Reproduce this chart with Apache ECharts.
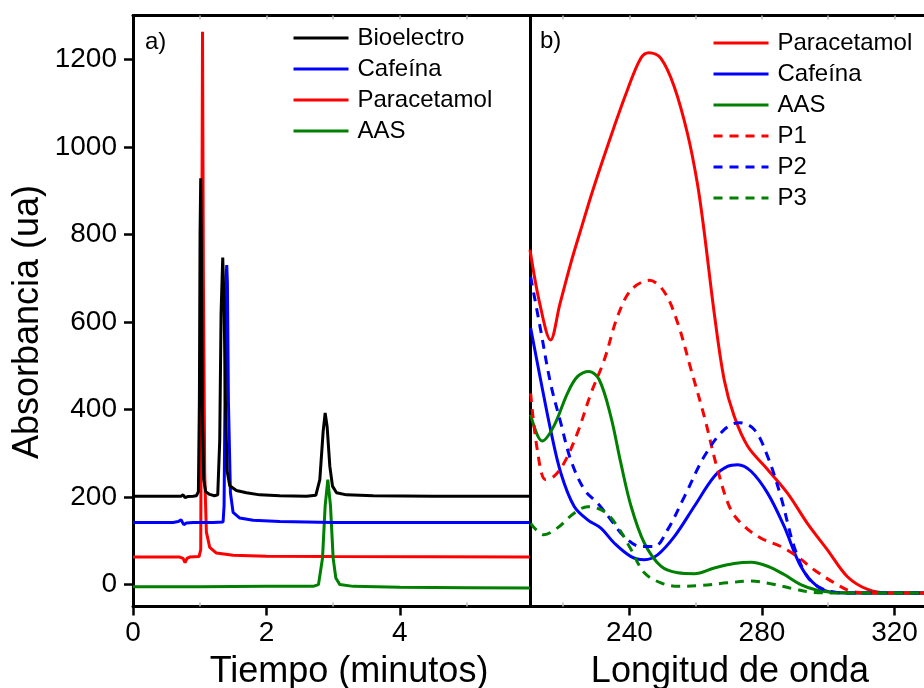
<!DOCTYPE html>
<html>
<head>
<meta charset="utf-8">
<script src="https://cdn.jsdelivr.net/npm/echarts@6/dist/echarts.min.js"></script>
<style>html,body{margin:0;padding:0;background:#fff;}#c{width:924px;height:688px;}</style>
</head>
<body>
<div id="c"></div>
<script>
// ---- Panel a) chromatograms: time (min) / absorbance ----
const bioT = [0,0.3,0.6,0.72,0.75,0.78,0.82,0.9,0.95,0.98,0.995,1.005,1.015,1.025,1.04,1.06,1.09,1.15,1.22,1.27,1.3,1.32,1.345,1.365,1.385,1.41,1.45,1.55,1.7,1.9,2.2,2.6,2.74,2.8,2.85,2.88,2.91,2.95,2.99,3.05,3.2,3.6,4.5,5.95];
const bioV = [202,202,202,202,205,199,201,202,203,212,420,800,928,780,400,240,212,206,203,205,330,620,747,640,420,260,226,215,210,205,203,202,204,240,350,392,360,270,225,210,205,203,202,202];
const cafT = [0,0.6,0.68,0.72,0.76,0.8,0.9,1.2,1.35,1.365,1.38,1.395,1.405,1.415,1.43,1.46,1.5,1.6,1.8,2.2,3,5.95];
const cafV = [142,142,144,148,137,141,142,142,143,180,450,700,730,690,420,210,165,152,147,144,142,142];
const parT = [0,0.7,0.75,0.78,0.81,0.85,0.99,1.015,1.03,1.042,1.055,1.075,1.1,1.15,1.25,1.5,2,3,5.95];
const parV = [63,63,60,50,60,63,64,80,700,1263,700,250,120,85,72,67,65,64,63];
const aasT = [0,1,2,2.7,2.78,2.84,2.88,2.92,2.96,3.0,3.04,3.1,3.3,4,5,5.95];
const aasV = [-5,-5,-4,-4,0,60,180,240,180,60,15,0,-4,-6,-7,-8];

// ---- Panel b) UV spectra: wavelength / absorbance ----
const parW = [210,213,216.2,219,222.3,225.3,229.3,235.4,239.4,243.4,245.9,249.5,253.5,257.5,260.5,262.5,265.6,268.6,271.6,275.7,281.7,287.7,293.7,299.8,305.8,311.9,318,340];
const parS = [765,640,559,640,734,810,909,1046,1130,1202,1215,1202,1138,1031,917,810,620,468,385,316,263,209,140,79,18,-11,-19,-19];
const cafW = [210.2,213.2,216.2,219.3,223.3,227.4,231.4,235.4,240.5,244.5,248.5,253.6,259.6,265.6,269.6,272.7,276.7,281.7,286.7,291.7,296.7,301.8,308,340];
const cafS = [586,468,354,255,179,148,129,95,64,57,68,110,179,247,270,274,259,209,133,42,-4,-18,-19,-19];
const aasW = [210.2,213.7,217.2,221.3,224.3,227.8,230.9,234.4,237.4,240.5,244.5,249.5,254.6,259.6,265.6,271.6,276.7,281.7,286.7,291.7,296.7,301.8,308,340];
const aasS = [388,328,362,437,475,487,468,384,278,179,95,42,27,25,38,48,51,42,23,0,-13,-18,-19,-19];
const p1W = [210.2,212.2,214.7,217.2,220.3,224.3,228.4,232.4,236.4,240.5,246,250.5,254.6,258.6,262.6,266.6,270.6,274.7,279.7,285.7,290.7,295.7,301.8,306.8,312,340];
const p1S = [437,308,240,247,278,346,437,513,612,673,695,669,597,491,384,263,171,133,106,87,64,34,4,-15,-19,-19];
const p2W = [210.2,213.2,216.2,219.3,222.3,226.4,230.4,234.4,238.4,243.5,247.5,251.5,256.6,262.6,268.6,273.2,277.7,281.7,285.7,289.7,293.7,297.8,302.8,308,340];
const p2S = [703,582,460,369,285,217,186,148,110,87,87,125,201,293,354,370,354,293,201,87,18,-8,-18,-19,-19];
const p3W = [210.2,214.2,218.2,223.3,227.4,232.4,236.4,240.5,244.5,249.5,254.6,261.6,269.6,276.7,282.7,289.7,295.7,302,340];
const p3S = [140,114,129,163,178,167,133,80,27,4,-4,-2,4,8,2,-10,-18,-19,-19];

// ---- axis ticks / labels ----
const yTicks = [0,200,400,600,800,1000,1200];
const timeTicks = [0,2,4];
const timeMinor = [1,3,5];
const timeTop = [1,2,3,4,5];
const waveTicks = [240,280,320];
const waveMinor = [220,260,300];
const waveTop = [220,240,260,280,300,320];

const FONT = 'Liberation Sans, Arial, sans-serif';
const pairs = (xs, ys) => xs.map((x, i) => [x, ys[i]]);

const chart = echarts.init(document.getElementById('c'), null, {renderer: 'canvas'});

function mkLine(name, xi, yi, xs, ys, color, dashed, smooth, z) {
  return {
    name: name, type: 'line', xAxisIndex: xi, yAxisIndex: yi, z: z || 2,
    data: pairs(xs, ys), showSymbol: false, symbol: 'none',
    smooth: smooth,
    lineStyle: {color: color, width: 3, type: dashed ? [9, 7] : 'solid'},
    itemStyle: {color: color}, animation: false, silent: true
  };
}

const bottomMain = (gi, min, max, ticks) => ({
  gridIndex: gi, type: 'value', min: min, max: max, position: 'bottom',
  axisLine: {show: true, onZero: false, lineStyle: {color: '#000', width: 3}},
  axisTick: {show: true, inside: false, length: 9, lineStyle: {color: '#000', width: 2.5}, customValues: ticks},
  axisLabel: {show: true, customValues: ticks, color: '#000', fontSize: 28, fontFamily: FONT, margin: 13, formatter: v => String(v)},
  splitLine: {show: false}
});
const topAxis = (gi, min, max, ticks) => ({
  gridIndex: gi, type: 'value', min: min, max: max, position: 'top',
  axisLine: {show: true, onZero: false, lineStyle: {color: '#000', width: 3}},
  axisTick: {show: true, inside: true, length: 4, lineStyle: {color: '#bbb', width: 1.5}, customValues: ticks},
  axisLabel: {show: false}, splitLine: {show: false}
});
const bottomMinor = (gi, min, max, ticks) => ({
  gridIndex: gi, type: 'value', min: min, max: max, position: 'bottom', offset: 0,
  axisLine: {show: false, onZero: false},
  axisTick: {show: true, inside: true, length: 4, lineStyle: {color: '#bbb', width: 1.5}, customValues: ticks},
  axisLabel: {show: false}, splitLine: {show: false}
});

const legendCommon = {
  orient: 'vertical', itemWidth: 55, itemHeight: 24, itemGap: 7, padding: 0,
  textStyle: {color: '#000', fontSize: 24, fontFamily: FONT, padding: [0, 0, 0, 4]},
  itemStyle: {opacity: 0, borderWidth: 0},
  lineStyle: {width: 3},
  selectedMode: false
};

chart.setOption({
  animation: false,
  backgroundColor: '#fff',
  grid: [
    {left: 133, top: 15.5, width: 397, height: 591, outerBoundsMode: 'none'},
    {left: 530, top: 15.5, width: 394, height: 591, outerBoundsMode: 'none'}
  ],
  xAxis: [
    bottomMain(0, 0, 5.95, timeTicks),
    topAxis(0, 0, 5.95, timeTop),
    bottomMinor(0, 0, 5.95, timeMinor),
    bottomMain(1, 210, 328.9, waveTicks),
    topAxis(1, 210, 328.9, waveTop),
    bottomMinor(1, 210, 328.9, waveMinor)
  ],
  yAxis: [
    {gridIndex: 0, type: 'value', min: -50, max: 1300,
     axisLine: {show: true, onZero: false, lineStyle: {color: '#000', width: 3}},
     axisTick: {show: true, inside: false, length: 9, lineStyle: {color: '#000', width: 2.5}, customValues: yTicks},
     axisLabel: {show: true, customValues: yTicks, color: '#000', fontSize: 28, fontFamily: FONT, margin: 16, formatter: v => String(v)},
     splitLine: {show: false}},
    {gridIndex: 1, type: 'value', min: -50, max: 1300,
     axisLine: {show: true, onZero: false, lineStyle: {color: '#000', width: 3}},
     axisTick: {show: false}, axisLabel: {show: false}, splitLine: {show: false}}
  ],
  legend: [
    Object.assign({}, legendCommon, {left: 292, top: 26, data: ['Bioelectro', 'Cafeína', 'Paracetamol', 'AAS']}),
    Object.assign({}, legendCommon, {left: 712, top: 31, data: ['Paracetamol ', 'Cafeína ', 'AAS ', 'P1', 'P2', 'P3']})
  ],
  graphic: [
    {type: 'text', left: 145, top: 30, style: {text: 'a)', fontSize: 24, fontFamily: FONT, fill: '#000'}},
    {type: 'text', left: 540, top: 29, style: {text: 'b)', fontSize: 24, fontFamily: FONT, fill: '#000'}},
    {type: 'text', x: 349, y: 672, style: {text: 'Tiempo (minutos)', fontSize: 36, fontFamily: FONT, fill: '#000', align: 'center', verticalAlign: 'middle'}},
    {type: 'text', x: 730, y: 672, style: {text: 'Longitud de onda', fontSize: 36, fontFamily: FONT, fill: '#000', align: 'center', verticalAlign: 'middle'}},
    {type: 'text', x: 28, y: 322, rotation: Math.PI / 2, style: {text: 'Absorbancia (ua)', fontSize: 36, fontFamily: FONT, fill: '#000', align: 'center', verticalAlign: 'middle'}}
  ],
  series: [
    mkLine('Bioelectro', 0, 0, bioT, bioV, '#000000', false, false, 4),
    mkLine('Cafeína', 0, 0, cafT, cafV, '#0000FF', false, false, 3),
    mkLine('Paracetamol', 0, 0, parT, parV, '#FF0000', false, false, 2),
    mkLine('AAS', 0, 0, aasT, aasV, '#008000', false, false, 2),
    mkLine('Paracetamol ', 3, 1, parW, parS, '#FF0000', false, 0.35),
    mkLine('Cafeína ', 3, 1, cafW, cafS, '#0000FF', false, 0.35),
    mkLine('AAS ', 3, 1, aasW, aasS, '#008000', false, 0.35),
    mkLine('P1', 3, 1, p1W, p1S, '#FF0000', true, 0.35),
    mkLine('P2', 3, 1, p2W, p2S, '#0000FF', true, 0.35),
    mkLine('P3', 3, 1, p3W, p3S, '#008000', true, 0.35)
  ]
});
</script>
</body>
</html>
